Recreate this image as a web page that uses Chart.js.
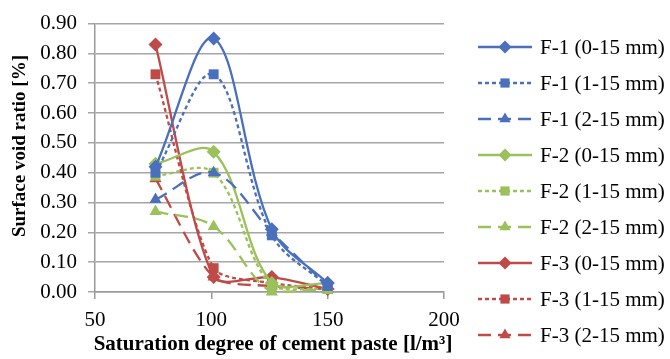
<!DOCTYPE html>
<html>
<head>
<meta charset="utf-8">
<script src="https://cdn.jsdelivr.net/npm/chart.js@4.4.1/dist/chart.umd.min.js"></script>
<style>
  html, body { margin: 0; padding: 0; background: #fff; }
  #wrap { width: 670px; height: 359px; }
</style>
</head>
<body>
<div id="wrap"><canvas id="voidChart" width="670" height="359"></canvas></div>
<script>
// cement paste saturation [l/m3]
const saturation = [76, 101, 126, 150]

const seriesNames = [
  'F-1 (0-15 mm)', 'F-1 (1-15 mm)', 'F-1 (2-15 mm)',
  'F-2 (0-15 mm)', 'F-2 (1-15 mm)', 'F-2 (2-15 mm)',
  'F-3 (0-15 mm)', 'F-3 (1-15 mm)', 'F-3 (2-15 mm)'
]

// surface void ratio [%]
const f1_0_15 = [0.42, 0.85, 0.21, 0.03]
const f1_1_15 = [0.40, 0.73, 0.19, 0.02]
const f1_2_15 = [0.31, 0.40, 0.20, 0.02]
const f2_0_15 = [0.43, 0.47, 0.03, 0.03]
const f2_1_15 = [0.39, 0.40, 0.02, 0.01]
const f2_2_15 = [0.27, 0.22, 0.00, 0.01]
const f3_0_15 = [0.83, 0.05, 0.05, 0.01]
const f3_1_15 = [0.73, 0.08, 0.03, 0.01]
const f3_2_15 = [0.38, 0.05, 0.02, 0.01]

const yTicks = [0, 0.1, 0.2, 0.3, 0.4, 0.5, 0.6, 0.7, 0.8, 0.9]
const xTicks = [50, 100, 150, 200]

const xTitle = 'Saturation degree of cement paste [l/m³]'
const yTitle = 'Surface void ratio [%]'

const allValues = [f1_0_15, f1_1_15, f1_2_15, f2_0_15, f2_1_15, f2_2_15, f3_0_15, f3_1_15, f3_2_15]

const blue = '#4a6fbd'
const green = '#9bc25a'
const red = '#be4b48'
const colors = [blue, blue, blue, green, green, green, red, red, red]
const shapes = ['rectRot', 'rect', 'triangle']
const dashes = [[], [4, 3], [13, 7]]

const serif = '"Liberation Serif", "Times New Roman", serif'

const datasets = allValues.map((vals, i) => {
  const k = i % 3
  return {
    label: seriesNames[i],
    data: vals.map((v, j) => ({x: saturation[j], y: v})),
    borderColor: colors[i],
    backgroundColor: colors[i],
    borderWidth: 2.3,
    borderDash: dashes[k],
    pointStyle: shapes[k],
    pointRadius: 7,
    pointBorderWidth: 0,
    tension: i >= 6 ? 0.25 : 0.35,
    clip: false
  }
})

// legend and axis titles drawn by hand, like the spreadsheet layout
const sideLegend = {
  id: 'sideLegend',
  afterDraw(chart) {
    const ctx = chart.ctx
    ctx.save()
    chart.data.datasets.forEach((ds, i) => {
      const y = 47 + i * 36
      ctx.strokeStyle = ds.borderColor
      ctx.lineWidth = 2.3
      ctx.setLineDash(ds.borderDash)
      ctx.beginPath()
      ctx.moveTo(478, y)
      ctx.lineTo(532, y)
      ctx.stroke()
      ctx.setLineDash([])
      ctx.fillStyle = ds.backgroundColor
      Chart.helpers.drawPoint(ctx, {pointStyle: ds.pointStyle, radius: 6.5, rotation: 0, borderWidth: 0}, 505, y)
      ctx.fillStyle = '#000'
      ctx.font = '21px ' + serif
      ctx.textBaseline = 'middle'
      ctx.textAlign = 'left'
      ctx.fillText(ds.label, 540, y + 1)
    })

    ctx.fillStyle = '#000'
    ctx.textAlign = 'center'
    ctx.textBaseline = 'middle'
    ctx.font = 'bold 21px ' + serif
    ctx.fillText(xTitle, 273, 345)

    ctx.font = 'bold 19px ' + serif
    ctx.translate(20, 146)
    ctx.rotate(-Math.PI / 2)
    ctx.fillText(yTitle, 0, 0)
    ctx.restore()
  }
}

const ctx = document.getElementById('voidChart').getContext('2d')
const voidChart = new Chart(ctx, {
  type: 'line',
  data: {datasets: datasets},
  options: {
    responsive: false,
    animation: false,
    layout: {padding: {left: 0, top: 20, right: 226, bottom: 0}},
    plugins: {legend: {display: false}, tooltip: {enabled: false}},
    scales: {
      x: {
        type: 'linear',
        min: 50, max: 200,
        afterBuildTicks: s => { s.ticks = xTicks.map(v => ({value: v})) },
        afterFit: s => { s.height = 67 },
        border: {color: '#999', width: 1.5},
        grid: {drawOnChartArea: false, tickLength: 7, color: '#999', lineWidth: 1.5},
        ticks: {color: '#000', font: {family: serif, size: 21}, padding: 9, maxRotation: 0}
      },
      y: {
        min: 0, max: 0.9,
        afterBuildTicks: s => { s.ticks = yTicks.map(v => ({value: v})) },
        afterFit: s => { s.width = 95 },
        border: {color: '#999', width: 1.5},
        grid: {color: '#a6a6a6', lineWidth: 1.5, tickLength: 7},
        ticks: {color: '#000', font: {family: serif, size: 21}, padding: 11,
          callback: v => v.toFixed(2)}
      }
    }
  },
  plugins: [sideLegend]
})
</script>
</body>
</html>
